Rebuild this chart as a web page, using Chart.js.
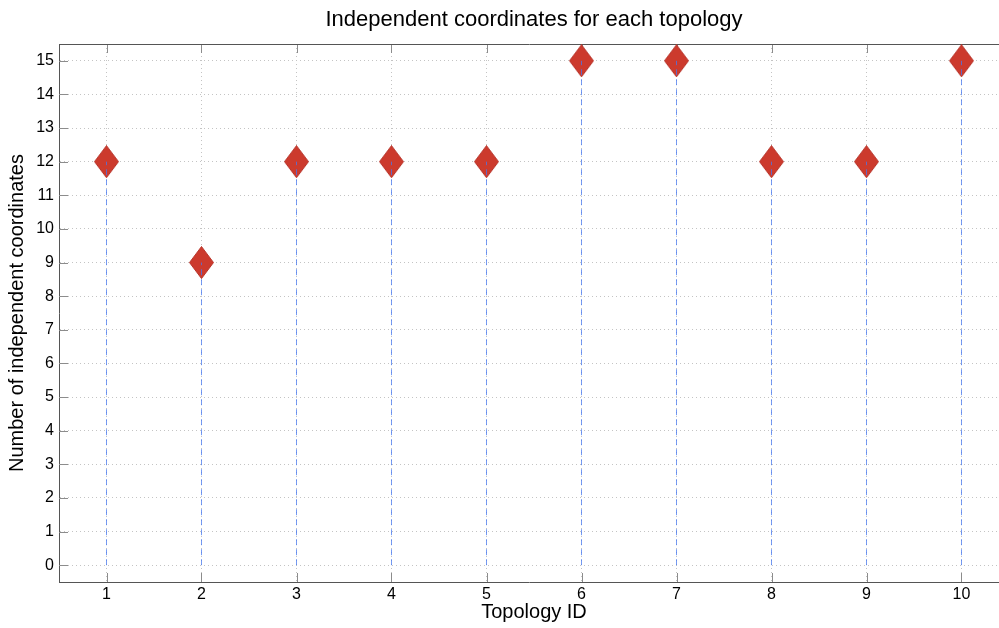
<!DOCTYPE html>
<html><head><meta charset="utf-8">
<script src="https://cdn.jsdelivr.net/npm/chart.js@4"></script>
<style>html,body{margin:0;padding:0;overflow:hidden;background:#fff}canvas{display:block}</style>
</head><body><canvas id="c" width="999" height="628"></canvas>
<script>
const topologyIds = [1, 2, 3, 4, 5, 6, 7, 8, 9, 10];
const coordinateCounts = [12, 9, 12, 12, 12, 15, 15, 12, 12, 15];
const xTickValues = [1, 2, 3, 4, 5, 6, 7, 8, 9, 10];
const yTickValues = [0, 1, 2, 3, 4, 5, 6, 7, 8, 9, 10, 11, 12, 13, 14, 15];
const titleText = 'Independent coordinates for each topology';
const xTitle = 'Topology ID';
const yTitle = 'Number of independent coordinates';

const FONT = '"Liberation Sans", Arial, Helvetica, sans-serif';

// diamond marker image (taller than wide, like MATLAB 'd')
const diamond = document.createElement('canvas');
diamond.width = 25; diamond.height = 33;
(function(){
  const g = diamond.getContext('2d');
  g.fillStyle = '#cc3a2d';
  g.strokeStyle = '#b8342a';
  g.lineWidth = 1;
  g.beginPath();
  g.moveTo(12.5, 0.5); g.lineTo(24.5, 16.5); g.lineTo(12.5, 32.5); g.lineTo(0.5, 16.5);
  g.closePath(); g.fill(); g.stroke();
})();

const stemData = [];
topologyIds.forEach((id, i) => {
  stemData.push({x: id, y: 0});
  stemData.push({x: id, y: coordinateCounts[i]});
  stemData.push({x: id, y: null});
});
const markerData = topologyIds.map((id, i) => ({x: id, y: coordinateCounts[i]}));

const gridColor = (list) => (c) => (c.tick && list.includes(c.tick.value)) ? '#c4c4c4' : 'rgba(0,0,0,0)';

const boxPlugin = {
  id: 'box',
  afterLayout(chart) {
    // MATLAB's axes box extends past the window edge: centre titles over the full box
    const a = chart.chartArea, x = chart.scales.x;
    const fullRight = x.getPixelForValue(10.5);
    if (chart.titleBlock) { chart.titleBlock.left = a.left; chart.titleBlock.right = fullRight; }
    x.right = fullRight;
    a.right = fullRight;
  },
  beforeDatasetsDraw(chart) {
    const {ctx, chartArea: a, scales: {x, y}} = chart;
    ctx.save();
    ctx.strokeStyle = '#8c8c8c';
    ctx.lineWidth = 1;
    ctx.beginPath();
    const L = 9;
    xTickValues.forEach(v => {
      const px = Math.round(x.getPixelForValue(v)) + 0.5;
      ctx.moveTo(px, a.bottom); ctx.lineTo(px, a.bottom - L);
      ctx.moveTo(px, a.top); ctx.lineTo(px, a.top + L);
    });
    yTickValues.forEach(v => {
      const py = Math.round(y.getPixelForValue(v)) + 0.5;
      ctx.moveTo(a.left, py); ctx.lineTo(a.left + L, py);
    });
    ctx.stroke();
    ctx.strokeStyle = '#555555';
    ctx.beginPath();
    ctx.moveTo(a.left, Math.round(a.top) + 0.5);
    ctx.lineTo(a.right + 2, Math.round(a.top) + 0.5);
    ctx.stroke();
    ctx.restore();
  }
};

new Chart(document.getElementById('c'), {
  type: 'scatter',
  data: {
    datasets: [
      {
        label: 'stems',
        data: stemData,
        showLine: true,
        spanGaps: false,
        borderColor: 'rgba(70,120,240,0.75)',
        borderWidth: 1,
        borderDash: [6, 4],
        pointRadius: 0,
        pointHoverRadius: 0,
        order: 0
      },
      {
        label: 'coords',
        data: markerData,
        showLine: false,
        pointStyle: diamond,
        pointRadius: 12,
        order: 1
      }
    ]
  },
  options: {
    responsive: false,
    animation: false,
    events: [],
    layout: {autoPadding: false, padding: {left: 0, right: 0, top: 0, bottom: 0}},
    plugins: {
      legend: {display: false},
      tooltip: {enabled: false},
      title: {
        display: true,
        text: titleText,
        fullSize: false,
        color: '#000',
        font: {family: FONT, size: 22, weight: 'normal', lineHeight: 1.2},
        padding: {top: 7, bottom: 10.6}
      }
    },
    scales: {
      x: {
        type: 'linear',
        min: 0.5, max: 0.5 + 940 / 95,
        afterBuildTicks: s => { s.ticks = xTickValues.map(v => ({value: v})); },
        afterFit: s => { s.height = 46; s.paddingLeft = 0; s.paddingRight = 0; },
        ticks: {color: '#000', font: {family: FONT, size: 16}, padding: 3, maxRotation: 0, autoSkip: false,
                callback: v => String(v)},
        grid: {color: gridColor(xTickValues), lineWidth: 1, drawTicks: false},
        border: {display: true, color: '#555555', width: 1, dash: [1, 3]},
        title: {display: true, text: xTitle, color: '#000', font: {family: FONT, size: 20, lineHeight: 1.2}, padding: {top: 0, bottom: 4}}
      },
      y: {
        type: 'linear',
        min: -0.5, max: 15.5,
        afterBuildTicks: s => { s.ticks = yTickValues.map(v => ({value: v})); },
        afterFit: s => { s.width = 59; s.paddingTop = 0; s.paddingBottom = 0; },
        ticks: {color: '#000', font: {family: FONT, size: 16}, padding: 5, autoSkip: false,
                callback: v => String(v)},
        grid: {color: gridColor(yTickValues), lineWidth: 1, drawTicks: false},
        border: {display: true, color: '#555555', width: 1, dash: [1, 3]},
        title: {display: true, text: yTitle, color: '#000', font: {family: FONT, size: 20, lineHeight: 1.2}, padding: {top: 5, bottom: 0}}
      }
    }
  },
  plugins: [boxPlugin]
});
</script>
</body></html>
